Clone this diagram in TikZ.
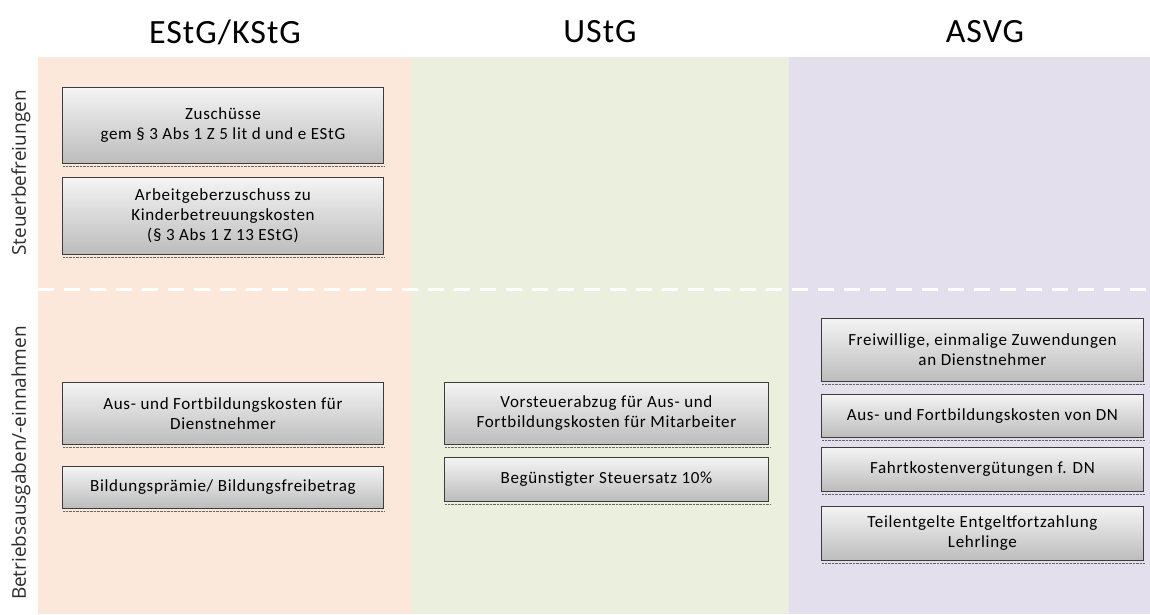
\documentclass[tikz,border=0pt]{standalone}
\usepackage{fontspec}
\setmainfont{Carlito}
\newfontfamily\boxfont[LetterSpace=4]{Carlito}
\newfontfamily\headfont[LetterSpace=3]{Carlito}
\newfontfamily\sidefont{Open Sans}
\usetikzlibrary{calc}
\definecolor{cE}{RGB}{252,232,218}
\definecolor{cU}{RGB}{235,240,222}
\definecolor{cA}{RGB}{228,223,236}
\definecolor{boxborder}{RGB}{60,60,60}
\definecolor{boxtop}{RGB}{244,244,244}
\definecolor{boxbot}{RGB}{188,188,188}
\definecolor{shadowgray}{RGB}{100,100,100}
\definecolor{labelgray}{RGB}{45,45,45}
\begin{document}
\begin{tikzpicture}[x=1pt,y=-1pt,
  header/.style={font=\headfont\fontsize{34}{38}\selectfont, anchor=center},
  sidelabel/.style={font=\sidefont\fontsize{19}{22}\selectfont, rotate=90, anchor=center, text=labelgray},
  box/.style={draw=boxborder, line width=0.9pt,
    top color=boxtop, bottom color=boxbot,
    align=center, inner sep=2pt, font=\boxfont\fontsize{17}{20}\selectfont, anchor=north west},
  shadowline/.style={draw=shadowgray, line width=1.5pt, dash pattern=on 0.7pt off 0.7pt},
  sep/.style={draw=white, line width=3pt, dash pattern=on 16pt off 10pt}
]
\useasboundingbox (0,0) rectangle (1150,614);
\fill[white] (0,0) rectangle (1150,614);
% column backgrounds
\fill[cE] (38,57) rectangle (412,614);
\fill[cU] (412,57) rectangle (789,614);
\fill[cA] (789,57) rectangle (1150,614);
% separator
\draw[sep] (38,289) -- (1150,289);
% headers
\node[header] (hE) at (225,32) {EStG/KStG};
\node[header] (hU) at (600,32) {UStG};
\node[header] (hA) at (985,32) {ASVG};
% side labels
\node[sidelabel] (sl1) at (21,173) {Steuerbefreiungen};
\node[sidelabel] (sl2) at (21,463) {Betriebsausgaben/-einnahmen};
% EStG boxes
\node[box, minimum width=321pt, minimum height=76pt] (e1) at (62,87) {Zuschüsse\\gem § 3 Abs 1 Z 5 lit d und e EStG};
\node[box, minimum width=321pt, minimum height=77pt] (e2) at (62,177) {Arbeitgeberzuschuss zu\\Kinderbetreuungskosten\\(§ 3 Abs 1 Z 13 EStG)};
\node[box, minimum width=321pt, minimum height=62pt] (e3) at (62,382) {Aus- und Fortbildungskosten für\\Dienstnehmer};
\node[box, minimum width=321pt, minimum height=42pt] (e4) at (62,466) {Bildungsprämie/ Bildungsfreibetrag};
% UStG boxes
\node[box, minimum width=324pt, minimum height=62pt] (u1) at (444,382) {Vorsteuerabzug für Aus- und\\Fortbildungskosten für Mitarbeiter};
\node[box, minimum width=324pt, minimum height=44pt] (u2) at (444,457) {Begünstigter Steuersatz 10\%};
% ASVG boxes
\node[box, minimum width=322pt, minimum height=63pt] (a1) at (821,318) {Freiwillige, einmalige Zuwendungen\\an Dienstnehmer};
\node[box, minimum width=322pt, minimum height=43pt] (a2) at (821,394) {Aus- und Fortbildungskosten von DN};
\node[box, minimum width=322pt, minimum height=44pt] (a3) at (821,447) {Fahrtkostenvergütungen f. DN};
\node[box, minimum width=322pt, minimum height=54pt] (a4) at (821,506) {Teilentgelte Entgeltfortzahlung\\Lehrlinge};
% shadow lines
\foreach \n in {e1,e2,e3,e4,u1,u2,a1,a2,a3,a4}{
  \draw[shadowline] ($(\n.south west)+(1,2.5)$) -- ($(\n.south east)+(1,2.5)$);
}
\end{tikzpicture}
\end{document}
